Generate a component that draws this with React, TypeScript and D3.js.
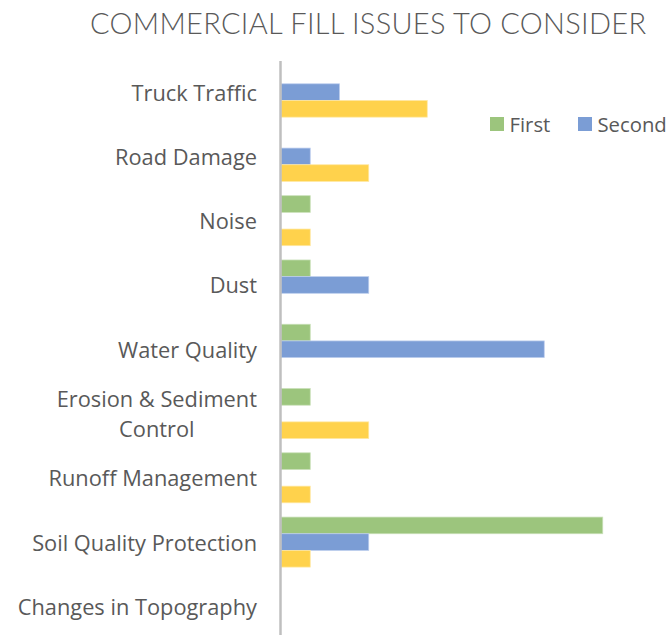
import { useEffect, useRef } from "react";
import * as d3 from "d3";

const categories = [
  "Truck Traffic",
  "Road Damage",
  "Noise",
  "Dust",
  "Water Quality",
  "Erosion & Sediment Control",
  "Runoff Management",
  "Soil Quality Protection",
  "Changes in Topography",
];

const seriesNames = ["First", "Second", "Third"];
const firstValues = [0, 0, 1, 1, 1, 1, 1, 11, 0];
const secondValues = [2, 1, 0, 3, 9, 0, 0, 3, 0];
const thirdValues = [5, 3, 1, 0, 0, 3, 1, 1, 0];

// labels that Excel wrapped onto two lines
const wrappedLabels: Record<string, string[]> = {
  "Erosion & Sediment Control": ["Erosion & Sediment", "Control"],
};

const colors = ["#9cc57d", "#7b9dd5", "#ffd24c"];
const strokes = ["#c9e0b8", "#bccded", "#ffe8a3"];

const WIDTH = 668;
const HEIGHT = 635;
const FONT = "'Open Sans', Lato, sans-serif";
const TITLE_FONT = "Lato, 'Open Sans', sans-serif";
const LABEL_SIZE = "21.8px";
const LEGEND_SIZE = "20.3px";
const TEXT = "#595959";

export default function App() {
  const svgRef = useRef<SVGSVGElement>(null);

  useEffect(() => {
    document.body.style.margin = "0";
    if (!svgRef.current) return;
    const svg = d3.select(svgRef.current);
    svg.selectAll("*").remove();

    const plot = { left: 281, top: 60, bottom: 638.5 };

    const x = d3.scaleLinear().domain([0, 12]).range([plot.left, plot.left + 12 * 29.25]);

    const y = d3
      .scaleBand<string>()
      .domain(categories)
      .range([plot.top, plot.bottom])
      .paddingInner(0.222)
      .paddingOuter(0.111);

    const sub = d3
      .scaleBand<string>()
      .domain(seriesNames)
      .range([0, y.bandwidth()]);

    const values = [firstValues, secondValues, thirdValues];

    // Title
    svg
      .append("text")
      .attr("x", 368)
      .attr("y", 34)
      .attr("text-anchor", "middle")
      .attr("font-family", TITLE_FONT)
      .attr("font-weight", 300)
      .attr("font-size", "29px")
      .attr("fill", TEXT)
      .attr("textLength", 556)
      .attr("lengthAdjust", "spacing")
      .text("COMMERCIAL FILL ISSUES TO CONSIDER");

    // Bars
    seriesNames.forEach((name, si) => {
      svg
        .append("g")
        .selectAll("rect")
        .data(categories.map((c, i) => ({ c, v: values[si][i] })).filter((d) => d.v > 0))
        .join("rect")
        .attr("x", x(0))
        .attr("y", (d) => (y(d.c) ?? 0) + (sub(name) ?? 0))
        .attr("width", (d) => x(d.v) - x(0))
        .attr("height", sub.bandwidth())
        .attr("fill", colors[si])
        .attr("stroke", strokes[si])
        .attr("stroke-width", 0.75);
    });

    // Axis line
    svg
      .append("line")
      .attr("x1", plot.left - 0.5)
      .attr("x2", plot.left - 0.5)
      .attr("y1", 61)
      .attr("y2", HEIGHT)
      .attr("stroke", "#bfbfbf")
      .attr("stroke-width", 2.5);

    const addText = (size: string) =>
      svg
        .append("text")
        .attr("font-family", FONT)
        .attr("font-size", size)
        .attr("fill", TEXT)
        .style("font-variant-ligatures", "none")
        .attr("dominant-baseline", "central");

    // Category labels
    const labelRight = 257;
    const lineGap = 30.5;
    categories.forEach((c) => {
      const cy = (y(c) ?? 0) + y.bandwidth() / 2;
      const lines = wrappedLabels[c] ?? [c];
      const t = addText(LABEL_SIZE).attr("text-anchor", "end");
      if (lines.length === 1) {
        t.attr("x", labelRight).attr("y", cy).text(c);
        return;
      }
      t.attr("x", labelRight)
        .attr("y", cy - lineGap / 2)
        .text(lines[0]);
      const w = (t.node() as SVGTextElement).getComputedTextLength();
      addText(LABEL_SIZE)
        .attr("text-anchor", "middle")
        .attr("x", labelRight - w / 2)
        .attr("y", cy + lineGap / 2)
        .text(lines[1]);
    });

    // Legend (only the first two entries fit)
    const legend = [
      { name: "First", x: 490 },
      { name: "Second", x: 578 },
    ];
    legend.forEach((l, i) => {
      svg
        .append("rect")
        .attr("x", l.x)
        .attr("y", 117)
        .attr("width", 14)
        .attr("height", 14)
        .attr("fill", colors[i]);
      addText(LEGEND_SIZE)
        .attr("x", l.x + 19.5)
        .attr("y", 123.5)
        .text(l.name);
    });
  }, []);

  return (
    <svg
      ref={svgRef}
      width={WIDTH}
      height={HEIGHT}
      style={{ display: "block", background: "#ffffff" }}
    />
  );
}
